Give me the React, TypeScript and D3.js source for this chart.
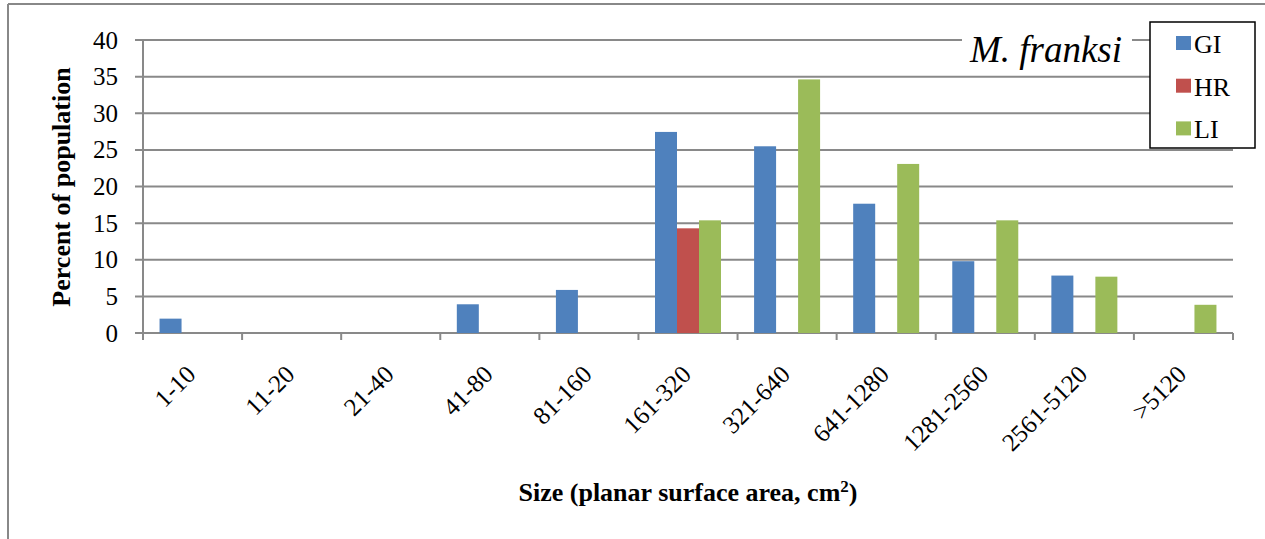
import React from "react";
import * as d3 from "d3";

const categories = ["1-10", "11-20", "21-40", "41-80", "81-160", "161-320", "321-640", "641-1280", "1281-2560", "2561-5120", ">5120"];
const seriesNames = ["GI", "HR", "LI"];
const giValues = [1.96, 0, 0, 3.92, 5.88, 27.45, 25.49, 17.65, 9.8, 7.84, 0];
const hrValues = [0, 0, 0, 0, 0, 14.29, 0, 0, 0, 0, 0];
const liValues = [0, 0, 0, 0, 0, 15.38, 34.62, 23.08, 15.38, 7.69, 3.85];
const yTicks = [0, 5, 10, 15, 20, 25, 30, 35, 40];
const colors = ["#4F81BD", "#C0504D", "#9BBB59"];

const W = 1265;
const H = 539;
const left = 143;
const right = 1233;
const top = 40;
const bottom = 333;
const serif = "Liberation Serif, Tinos, DejaVu Serif, serif";

export default function App() {
  const x = d3.scaleBand<string>().domain(categories).range([left, right]).paddingInner(0).paddingOuter(0);
  const inner = d3.scaleBand<string>().domain(seriesNames).range([0, 66]);
  const y = d3.scaleLinear().domain([0, 40]).range([bottom, top]);
  const allSeries = [giValues, hrValues, liValues];
  const bw = x.bandwidth();
  const grid = "#898989";

  return (
    <svg width={W} height={H} style={{ position: "absolute", left: 0, top: 0, background: "#fff", fontFamily: serif }}>
      {/* outer frame */}
      <line x1={8} y1={4} x2={W} y2={4} stroke="#888" strokeWidth={2} />
      <line x1={8} y1={4} x2={8} y2={H} stroke="#888" strokeWidth={2} />

      {/* gridlines and y ticks */}
      {yTicks.map((t) => (
        <g key={t}>
          <line x1={135} x2={right} y1={y(t)} y2={y(t)} stroke={grid} strokeWidth={2} />
          <text x={118} y={y(t) + 8.5} textAnchor="end" style={{ fontFamily: serif, fontSize: 25 }} fill="#000">
            {t}
          </text>
        </g>
      ))}
      <line x1={left} x2={left} y1={top} y2={bottom} stroke={grid} strokeWidth={2} />

      {/* x tick marks at category boundaries */}
      {categories.map((c) => (
        <line key={c} x1={x(c)!} x2={x(c)!} y1={bottom} y2={bottom + 7} stroke={grid} strokeWidth={2} />
      ))}
      <line x1={right} x2={right} y1={bottom} y2={bottom + 7} stroke={grid} strokeWidth={2} />

      {/* bars */}
      {allSeries.map((vals, si) =>
        vals.map((v, i) =>
          v > 0 ? (
            <rect
              key={`${si}-${i}`}
              x={x(categories[i])! + (bw - 66) / 2 + inner(seriesNames[si])!}
              y={y(v)}
              width={inner.bandwidth()}
              height={bottom - y(v)}
              fill={colors[si]}
            />
          ) : null
        )
      )}

      {/* x labels */}
      {categories.map((c) => {
        const cx = x(c)! + bw / 2 + 4.5;
        const cy = 376;
        return (
          <text
            key={c}
            x={cx}
            y={cy}
            textAnchor="end"
            style={{ fontFamily: serif, fontSize: 25 }}
            transform={`rotate(-45 ${cx} ${cy})`}
          >
            {c}
          </text>
        );
      })}

      {/* axis titles */}
      <text
        x={0}
        y={0}
        transform={`translate(70 ${187}) rotate(-90)`}
        textAnchor="middle"
        style={{ fontFamily: serif, fontSize: 26, fontWeight: "bold" }}
      >
        Percent of population
      </text>
      <text x={688} y={501} textAnchor="middle" style={{ fontFamily: serif, fontSize: 26, fontWeight: "bold" }}>
        Size (planar surface area, cm
        <tspan style={{ fontSize: 17 }} dy={-9}>2</tspan>
        <tspan dy={9}>)</tspan>
      </text>

      {/* species label */}
      <rect x={962} y={26} width={170} height={40} fill="#fff" />
      <text x={1046} y={62} textAnchor="middle" style={{ fontFamily: serif, fontSize: 37, fontStyle: "italic" }}>
        M. franksi
      </text>

      {/* legend */}
      <rect x={1150} y={22} width={105} height={126} fill="#fff" stroke="#000" strokeWidth={1.5} />
      {seriesNames.map((s, i) => {
        const ly = 43 + i * 42.7;
        return (
          <g key={s}>
            <rect x={1176} y={ly - 7} width={15} height={14} fill={colors[i]} />
            <text x={1194} y={ly + 10} style={{ fontFamily: serif, fontSize: 26 }}>
              {s}
            </text>
          </g>
        );
      })}
    </svg>
  );
}
